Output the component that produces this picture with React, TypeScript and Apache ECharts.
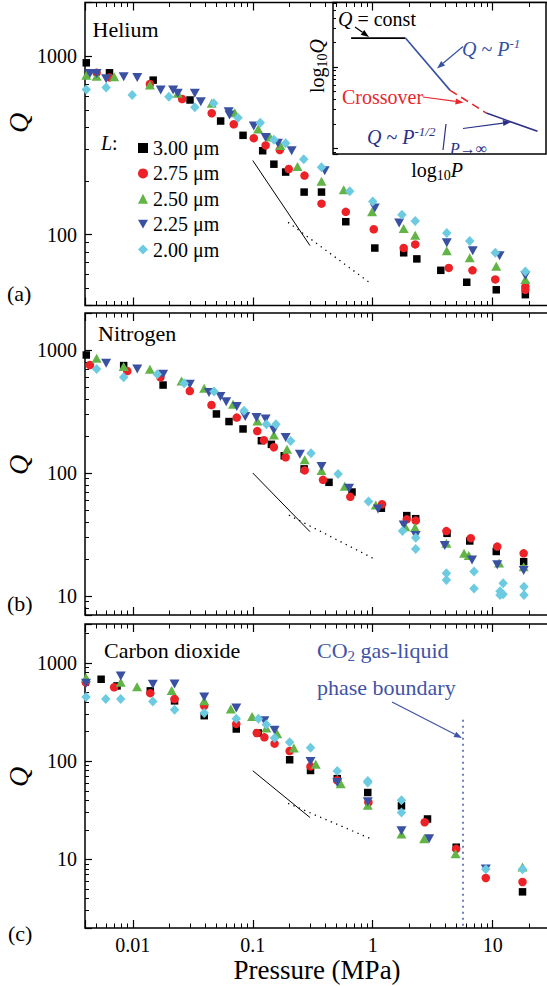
import { useEffect, useRef } from 'react';
import * as echarts from 'echarts';

const FONT = '"Liberation Serif", "Times New Roman", Times, serif';

const seriesNames = ['3.00 μm', '2.75 μm', '2.50 μm', '2.25 μm', '2.00 μm'];
const seriesColors = ['#000000', '#ec2227', '#62b446', '#3a51a3', '#6ccbe0'];
const seriesSymbols = ['rect', 'circle', 'triangle', 'path://M0,0L10,0L5,8.66Z', 'diamond'];
const seriesSizes: any[] = [7.5, 8.5, [10, 9], [10, 9], [9.5, 10]];

// ---- Helium (panel a) : [pressure MPa, Q]
const he300 = [[0.0041, 918], [0.0064, 807], [0.0148, 734], [0.030, 568], [0.054, 433], [0.083, 360], [0.121, 295], [0.150, 248], [0.188, 224], [0.268, 173], [0.374, 173], [0.596, 118], [1.04, 84], [1.81, 79], [2.33, 73], [3.69, 63], [6.07, 54], [10.7, 49], [18.7, 46]];
const he275 = [[0.0050, 807], [0.0064, 760], [0.0139, 698], [0.0258, 575], [0.0455, 479], [0.0695, 415], [0.102, 347], [0.128, 316], [0.168, 298], [0.1995, 233], [0.270, 214], [0.374, 149], [0.596, 134], [1.02, 107], [1.81, 84], [2.26, 88], [4.30, 65], [6.78, 63], [10.5, 56], [18.7, 51], [18.7, 49]];
const he250 = [[0.0041, 783], [0.0050, 773], [0.0070, 766], [0.0139, 689], [0.0237, 619], [0.0455, 545], [0.0708, 482], [0.111, 391], [0.139, 352], [0.170, 316], [0.236, 241], [0.374, 199], [0.573, 178], [0.987, 134], [1.81, 108], [2.26, 99], [4.14, 81], [6.43, 74], [10.7, 66.5], [18.7, 56]];
const he225 = [[0.0044, 800], [0.0050, 800], [0.0060, 748], [0.0084, 766], [0.0109, 759], [0.0171, 646], [0.0217, 646], [0.0237, 619], [0.0329, 619], [0.0369, 555], [0.063, 488], [0.064, 468], [0.102, 406], [0.128, 350], [0.162, 325], [0.211, 295], [0.398, 228], [1.04, 141], [1.66, 116], [4.14, 90], [6.81, 81], [11.4, 76], [18.7, 59]];
const he200 = [[0.0041, 651], [0.0060, 668], [0.0099, 606], [0.0200, 593], [0.0329, 517], [0.0473, 545], [0.0754, 452], [0.1155, 424], [0.150, 340], [0.188, 325], [0.266, 264], [0.374, 238], [0.643, 175], [1.00, 153], [1.75, 129], [2.26, 119], [4.14, 102], [6.43, 92], [10.5, 79], [18.7, 62]];

// ---- Nitrogen (panel b)
const n2300 = [[0.0041, 911], [0.0084, 747], [0.0179, 519], [0.0498, 302], [0.0634, 262], [0.083, 228], [0.118, 183], [0.143, 171], [0.183, 138], [0.268, 108], [0.432, 84], [0.672, 70], [1.18, 51.7], [1.92, 45], [2.28, 42.5], [4.16, 32.3], [6.43, 28], [10.7, 23], [18.1, 19]];
const n2275 = [[0.0044, 755], [0.0090, 675], [0.0170, 600], [0.0299, 464], [0.0453, 357], [0.0736, 282], [0.109, 219], [0.124, 185], [0.150, 162], [0.188, 134], [0.271, 105], [0.385, 88], [0.650, 64], [1.195, 55.7], [1.92, 42], [2.28, 41], [4.11, 33.7], [6.56, 29.5], [10.9, 25.2], [18.1, 22.2]];
const n2250 = [[0.0050, 856], [0.0084, 733], [0.0139, 697], [0.0255, 560], [0.0394, 489], [0.0685, 362], [0.1094, 265], [0.150, 204], [0.193, 156], [0.271, 128], [0.374, 105], [0.584, 78], [1.06, 55], [1.87, 36.6], [2.25, 36], [4.11, 26.8], [5.77, 22.2], [6.31, 21.3], [11.3, 18.5], [18.1, 17.3]];
const n2225 = [[0.0060, 780], [0.0109, 702], [0.0179, 634], [0.0299, 526], [0.0432, 451], [0.0538, 418], [0.0601, 380], [0.0736, 347], [0.0866, 288], [0.1074, 282], [0.128, 275], [0.150, 224], [0.188, 194], [0.247, 142], [0.374, 113], [0.634, 75], [1.107, 51], [1.81, 37.8], [2.28, 31], [3.98, 25.7], [6.72, 19.6], [10.9, 17.9], [18.1, 16.1]];
const n2200 = [[0.0050, 702], [0.0084, 600], [0.0160, 634], [0.0268, 536], [0.0476, 459], [0.0846, 321], [0.130, 249], [0.156, 249], [0.207, 182], [0.306, 145], [0.514, 98], [0.921, 58.5], [1.77, 33.7], [2.28, 29.8], [2.28, 24.1], [4.11, 15.3], [4.11, 13.5], [6.98, 15.8], [6.98, 11.5], [12.2, 12.7], [11.5, 10.9], [11.5, 10.2], [12.2, 10.3], [18.2, 11.9], [18.2, 10.2]];

// ---- Carbon dioxide (panel c)
const co2300 = [[0.00545, 684], [0.0074, 585], [0.0140, 521], [0.0223, 412], [0.0394, 291], [0.0729, 213], [0.111, 194], [0.203, 103.5], [0.303, 80.5], [0.506, 66.5], [0.909, 48], [1.735, 35.1], [2.86, 25.8], [4.96, 13.3], [17.7, 4.67]];
const co2275 = [[0.00406, 636], [0.0070, 567], [0.0140, 494], [0.0223, 430], [0.0394, 367], [0.0729, 240], [0.108, 194], [0.125, 175], [0.152, 151], [0.203, 127], [0.303, 88.5], [0.506, 64], [0.92, 38], [2.71, 23.9], [4.96, 12.8], [8.75, 6.47], [17.7, 5.89]];
const co2250 = [[0.00408, 710], [0.00794, 638], [0.01086, 575], [0.0211, 524], [0.0394, 412], [0.0656, 340], [0.0987, 286], [0.1296, 218], [0.160, 191], [0.220, 136], [0.335, 93], [0.541, 58.9], [0.909, 35.7], [1.735, 18.1], [2.68, 16.2], [4.90, 11.4], [17.7, 8.36]];
const co2225 = [[0.00408, 624], [0.00794, 738], [0.0147, 608], [0.0223, 613], [0.0394, 450], [0.0729, 348], [0.125, 259], [0.152, 207], [0.303, 99.6], [0.506, 60.6], [0.909, 38.7], [1.735, 19.6], [2.95, 16.2], [8.75, 8.0]];
const co2200 = [[0.00408, 450], [0.00596, 430], [0.00794, 430], [0.0147, 406], [0.0223, 334], [0.0394, 310], [0.0729, 271], [0.1115, 271], [0.1296, 236], [0.152, 172], [0.203, 156], [0.303, 137], [0.506, 79.4], [0.909, 60.6], [0.909, 63], [1.735, 40.1], [1.735, 30.1], [8.75, 7.94], [17.7, 7.94]];

// ---- guide lines (Q ~ P^-1 solid, Q ~ P^-1/2 dotted)
const heSlope1 = [[0.1, 260], [0.3, 86.7]];
const heSlopeHalf = [[0.197, 117], [0.944, 53.7]];
const n2Slope1 = [[0.1, 100], [0.3, 33.3]];
const n2SlopeHalf = [[0.2, 45.4], [1.0, 20.3]];
const co2Slope1 = [[0.1, 80], [0.3, 26.7]];
const co2SlopeHalf = [[0.197, 37.2], [0.944, 16.4]];
const co2Boundary = [[5.65, 265], [5.65, 2]];

// ---- inset schematic (arbitrary log units 0..10)
const insetConst = [[0.85, 7.65], [3.4, 7.65]];
const insetP1 = [[3.4, 7.65], [5.5, 4.2]];
const insetCross = [[5.5, 4.2], [7.2, 2.7]];
const insetPHalf = [[7.2, 2.7], [9.6, 1.5]];

// ---- axes
const xRange = [0.004, 30];
const yRanges = [[40, 2000], [7, 2000], [2, 2500]];
const panelBoxes = [
  { top: 2.5, height: 303 },
  { top: 313, height: 302 },
  { top: 624, height: 304 },
];

const decadeLabel = (v: number) => {
  const l = Math.log10(v);
  return Math.abs(l - Math.round(l)) < 1e-6 ? String(+v.toPrecision(6)) : '';
};

function arrow(x1: number, y1: number, x2: number, y2: number, color: string) {
  const ang = Math.atan2(y2 - y1, x2 - x1);
  const L = 8, W = 3;
  const bx = x2 - L * Math.cos(ang), by = y2 - L * Math.sin(ang);
  const px = -Math.sin(ang) * W, py = Math.cos(ang) * W;
  return [
    { type: 'line', shape: { x1, y1, x2: bx, y2: by }, style: { stroke: color, lineWidth: 1.2 }, z: 50 },
    { type: 'polygon', shape: { points: [[x2, y2], [bx + px, by + py], [bx - px, by - py]] }, style: { fill: color }, z: 50 },
  ];
}

function txt(text: string, x: number, y: number, o: any = {}) {
  const size = o.size || 20;
  return {
    type: 'text', x, y, rotation: o.rotation || 0, z: 50,
    style: {
      text, fontFamily: FONT, fontSize: size, fontStyle: o.italic ? 'italic' : 'normal',
      fill: o.color || '#000', align: o.align || 'left', verticalAlign: 'middle',
      rich: {
        n: { fontFamily: FONT, fontSize: size, fill: o.color || '#000' },
        i: { fontFamily: FONT, fontSize: size, fontStyle: 'italic', fill: o.color || '#000' },
        sub: { fontFamily: FONT, fontSize: Math.round(size * 0.68), fill: o.color || '#000', padding: [Math.round(size * 0.5), 0, 0, 0] },
        sup: { fontFamily: FONT, fontSize: Math.round(size * 0.65), fontStyle: 'italic', fill: o.color || '#000', padding: [0, 0, Math.round(size * 0.55), 0] },
      },
    },
  };
}

export default function App() {
  const ref = useRef<HTMLDivElement>(null);
  useEffect(() => {
    if (!ref.current) return;
    const chart = echarts.init(ref.current, null, { renderer: 'svg' });

    const panelData = [
      [he300, he275, he250, he225, he200],
      [n2300, n2275, n2250, n2225, n2200],
      [co2300, co2275, co2250, co2225, co2200],
    ];
    const guides = [[heSlope1, heSlopeHalf], [n2Slope1, n2SlopeHalf], [co2Slope1, co2SlopeHalf]];

    const grid: any[] = panelBoxes.map((b) => ({
      left: 85, width: 465, top: b.top, height: b.height,
      show: true, borderColor: '#000', borderWidth: 1.5, backgroundColor: 'transparent',
      outerBoundsMode: 'none', containLabel: false,
    }));
    grid.push({ left: 333, top: 2.5, width: 213, height: 151.5, show: true, borderColor: '#000', borderWidth: 1.5, backgroundColor: '#fff', outerBoundsMode: 'none', containLabel: false });

    const tickBase = (len: number, mlen: number) => ({
      axisTick: { show: true, inside: true, length: len, lineStyle: { color: '#000', width: 1.2 } },
      minorTick: { show: true, splitNumber: 9, length: mlen, lineStyle: { color: '#000', width: 1 } },
      minorSplitLine: { show: false },
      splitLine: { show: false },
      axisLine: { show: false },
    });

    const xAxis: any[] = [];
    panelBoxes.forEach((_, p) => {
      xAxis.push({
        type: 'log', logBase: 10, min: xRange[0], max: xRange[1], gridIndex: p, position: 'bottom',
        ...tickBase(8, 4.5),
        axisLabel: { show: p === 2, margin: 7, fontSize: 20, fontFamily: FONT, color: '#000', formatter: decadeLabel, showMinLabel: false, showMaxLabel: false },
      });
      xAxis.push({
        type: 'log', logBase: 10, min: xRange[0], max: xRange[1], gridIndex: p, position: 'top',
        ...tickBase(8, 4.5),
        axisLabel: { show: false },
      });
    });
    xAxis.push({ type: 'value', min: 0, max: 10, gridIndex: 3, show: false });

    const yAxis: any[] = yRanges.map((r, p) => ({
      type: 'log', logBase: 10, min: r[0], max: r[1], gridIndex: p, position: 'left',
      ...tickBase(7, 4),
      axisLabel: { show: true, margin: 8, fontSize: 20, fontFamily: FONT, color: '#000', formatter: decadeLabel, showMinLabel: false, showMaxLabel: false },
    }));
    yAxis.push({ type: 'value', min: 0, max: 10, gridIndex: 3, show: false });
    yAxis.push({
      type: 'log', logBase: 10, min: 0.85, max: 62, gridIndex: 3, position: 'left',
      ...tickBase(5, 3),
      axisLabel: { show: false },
    });

    const series: any[] = [];
    panelData.forEach((sets, p) => {
      guides[p].forEach((g, gi) => {
        series.push({
          type: 'line', xAxisIndex: p * 2, yAxisIndex: p, data: g, symbol: 'none', silent: true, z: 1,
          lineStyle: { color: '#000', width: gi === 0 ? 1 : 1.3, type: gi === 0 ? 'solid' : [1.3, 4.5] },
        });
      });
      sets.forEach((d, k) => {
        series.push({
          name: seriesNames[k], type: 'scatter', xAxisIndex: p * 2, yAxisIndex: p, data: d,
          symbol: seriesSymbols[k], symbolSize: seriesSizes[k], itemStyle: { color: seriesColors[k], opacity: 1 }, z: 3,
        });
      });
    });
    series.push({
      type: 'line', xAxisIndex: 4, yAxisIndex: 2, data: co2Boundary, symbol: 'none', silent: true, z: 1,
      lineStyle: { color: '#3f54a4', width: 1.5, type: [2, 4] },
    });
    const insetLines: [number[][], string, any][] = [
      [insetConst, '#000000', 'solid'],
      [insetP1, '#3451a3', 'solid'],
      [insetCross, '#e8262c', [8, 5]],
      [insetPHalf, '#2b3087', 'solid'],
    ];
    insetLines.forEach(([d, c, t]) => {
      series.push({ type: 'line', xAxisIndex: 6, yAxisIndex: 3, data: d, symbol: 'none', silent: true, z: 5, lineStyle: { color: c, width: 1.6, type: t } });
    });

    const graphic: any[] = [
      txt('Helium', 92.5, 29, { size: 22 }),
      txt('Nitrogen', 98, 333, { size: 22 }),
      txt('Carbon dioxide', 104, 650, { size: 22 }),
      txt('(a)', 7, 293, { size: 22 }),
      txt('(b)', 7, 603, { size: 22 }),
      txt('(c)', 8, 933, { size: 22 }),
      txt('Q', 18, 123, { size: 28, italic: true, rotation: Math.PI / 2, align: 'center' }),
      txt('Q', 18, 465, { size: 28, italic: true, rotation: Math.PI / 2, align: 'center' }),
      txt('Q', 18, 777, { size: 28, italic: true, rotation: Math.PI / 2, align: 'center' }),
      txt('Pressure (MPa)', 317, 970, { size: 27, align: 'center' }),
      txt('{i|L}:', 101, 143, { size: 20 }),
      // inset
      txt('{i|Q} = const', 338, 19, { size: 20 }),
      txt('{i|Q} ~ {i|P}{sup|-1}', 462, 49, { size: 20, color: '#3451a3' }),
      txt('Crossover', 342, 97, { size: 20, color: '#e8262c' }),
      txt('{i|Q} ~ {i|P}{sup|-1/2}', 367, 137, { size: 20, color: '#2b3087' }),
      txt('{i|P}→∞', 450, 148, { size: 16, color: '#2b3087' }),
      { type: 'line', shape: { x1: 446, y1: 124, x2: 443, y2: 150 }, style: { stroke: '#2b3087', lineWidth: 1.2 }, z: 50 },
      txt('{n|log}{sub|10}{i|Q}', 317, 66, { size: 20, rotation: Math.PI / 2, align: 'center' }),
      txt('{n|log}{sub|10}{i|P}', 437, 170, { size: 20, align: 'center' }),
      // CO2 note
      txt('{n|CO}{sub|2}{n| gas-liquid}', 317, 650, { size: 22, color: '#3f54a4' }),
      txt('phase boundary', 317, 687, { size: 22, color: '#3f54a4' }),
      ...arrow(355, 27, 369, 37, '#000'),
      ...arrow(463, 46.5, 437, 68.5, '#3451a3'),
      ...arrow(423, 97, 463.5, 102.5, '#e8262c'),
      ...arrow(463, 128.5, 511, 122, '#2b3087'),
      ...arrow(392, 702, 462, 738, '#3f54a4'),
    ];

    chart.setOption({
      animation: false,
      backgroundColor: '#fff',
      textStyle: { fontFamily: FONT },
      grid, xAxis, yAxis, series, graphic,
      legend: {
        data: seriesNames, orient: 'vertical', left: 133, top: 133, itemWidth: 10, itemHeight: 10, itemGap: 5.4,
        selectedMode: false, textStyle: { fontFamily: FONT, fontSize: 20, color: '#000', lineHeight: 20 },
      },
    });
    return () => chart.dispose();
  }, []);
  return <div ref={ref} style={{ position: 'fixed', left: 0, top: 0, width: 547, height: 986, background: '#fff' }} />;
}
